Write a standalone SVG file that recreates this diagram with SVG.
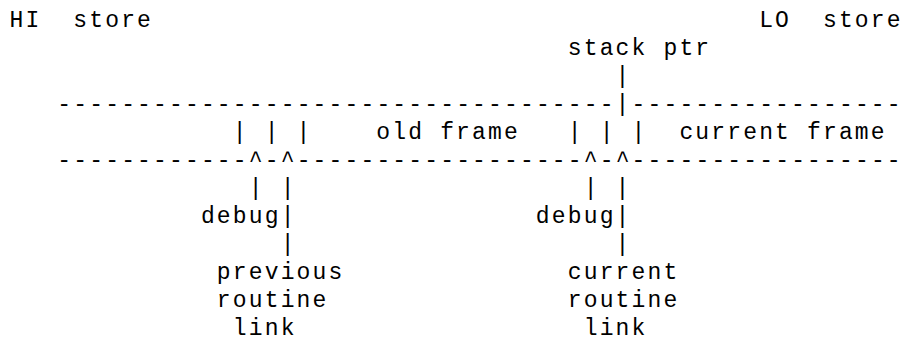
<svg xmlns="http://www.w3.org/2000/svg" width="905" height="352" viewBox="0 0 905 352">
<style>
text{font-family:"Liberation Mono","DejaVu Sans Mono",monospace;font-size:23px;letter-spacing:2.15px;fill:#000}
</style>
<rect width="905" height="352" fill="#fff"/>
<g id="hi-store"><text x="9.5" y="26.5">HI</text><text x="73.3" y="26.5">store</text></g>
<g id="lo-store"><text x="759.15" y="26.5">LO</text><text x="822.95" y="26.5">store</text></g>
<g id="stack-ptr"><text x="567.75" y="54.5">stack ptr</text></g>
<g id="frame-top"><text x="57.35" y="110.5">-----------------------------------</text><text x="631.55" y="110.5">-----------------</text></g>
<g id="old-frame"><text x="376.35" y="138.5">old frame</text></g>
<g id="current-frame"><text x="679.4" y="138.5">current frame</text></g>
<g id="frame-bottom"><text x="57.35" y="166.5">------------^-^------------------^-^-----------------</text></g>
<g id="prev-debug"><text x="200.9" y="222.5">debug</text></g>
<g id="cur-debug"><text x="535.85" y="222.5">debug</text></g>
<g id="prev-link"><text x="216.85" y="278.5">previous</text><text x="216.85" y="306.5">routine</text><text x="232.8" y="334.5">link</text></g>
<g id="cur-link"><text x="567.75" y="278.5">current</text><text x="567.75" y="306.5">routine</text><text x="583.7" y="334.5">link</text></g>
<g id="connectors">
<text x="615.6" y="82.5">|</text>
<text x="615.6" y="110.5">|</text>
<text x="232.8" y="138.5">| | |</text>
<text x="567.75" y="138.5">| | |</text>
<text x="248.75" y="194.5">| |</text>
<text x="583.7" y="194.5">| |</text>
<text x="280.65" y="222.5">|</text>
<text x="615.6" y="222.5">|</text>
<text x="280.65" y="250.5">|</text>
<text x="615.6" y="250.5">|</text>
</g>
</svg>
